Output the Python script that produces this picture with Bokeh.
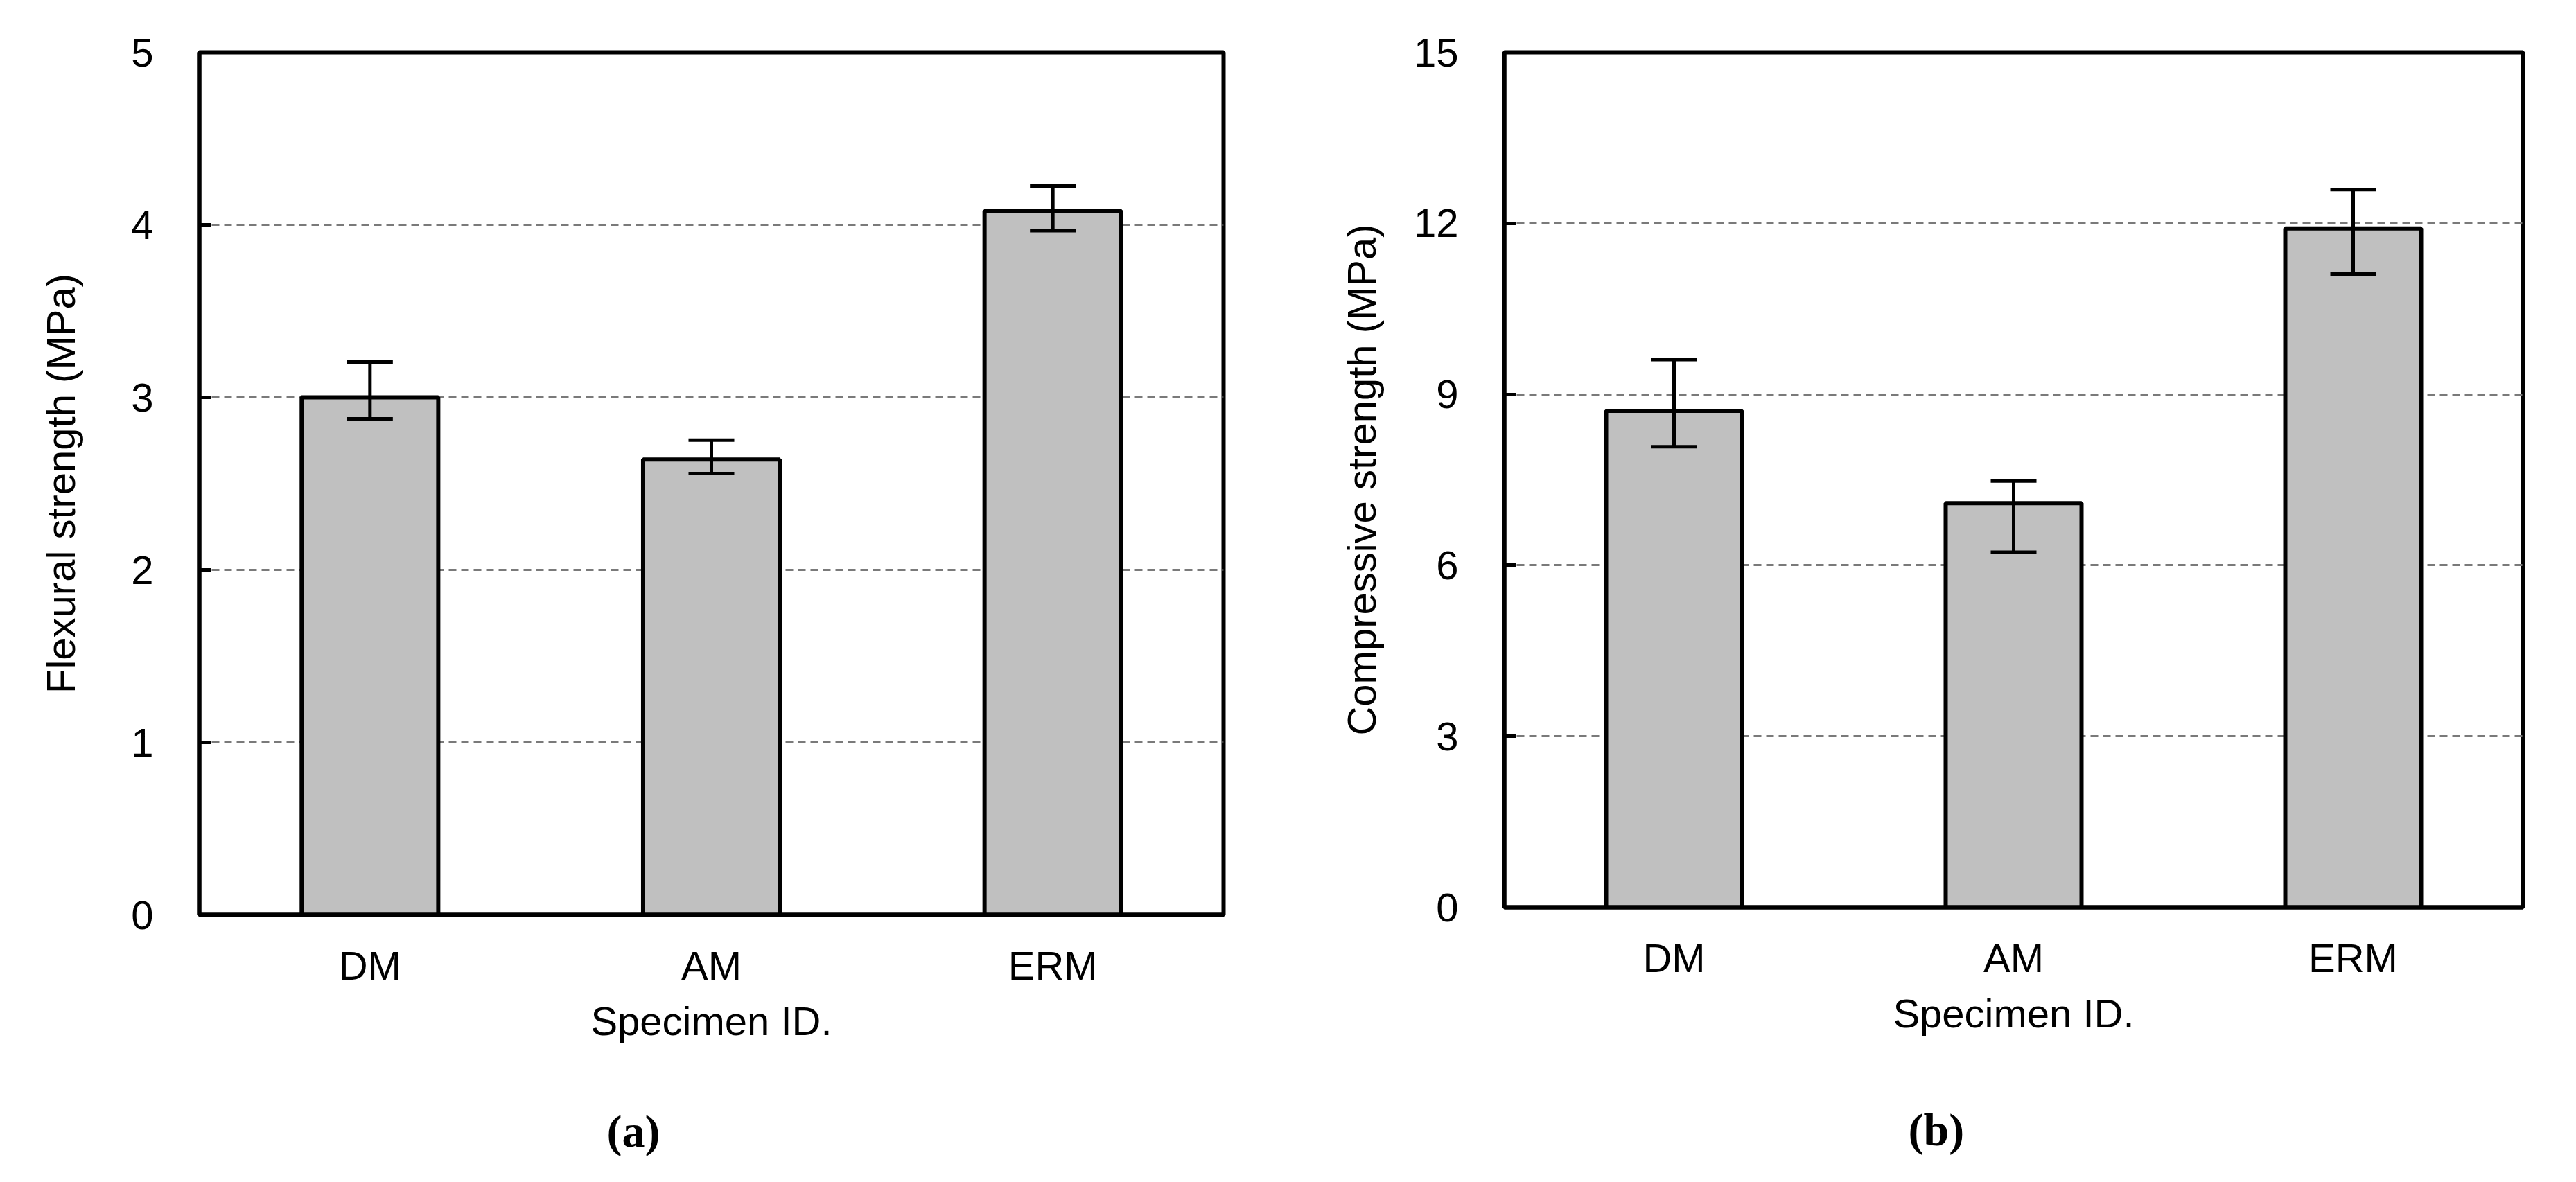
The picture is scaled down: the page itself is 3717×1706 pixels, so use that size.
from bokeh.plotting import figure
from bokeh.models import (ColumnDataSource, FactorRange, Range1d, FixedTicker,
                          Whisker, TeeHead, Title)
from bokeh.layouts import row
from bokeh.embed import file_html
from bokeh.resources import INLINE

# ---------------- data ----------------
specimens = ["DM", "AM", "ERM"]

flexural_mean = [3.00, 2.64, 4.08]
flexural_upper = [3.205, 2.752, 4.225]
flexural_lower = [2.876, 2.558, 3.966]
flexural_ticks = [0, 1, 2, 3, 4, 5]

compressive_mean = [8.71, 7.09, 11.91]
compressive_upper = [9.61, 7.48, 12.59]
compressive_lower = [8.08, 6.23, 11.11]
compressive_ticks = [0, 3, 6, 9, 12, 15]

FONT = "Liberation Sans"
FS = "58px"


def make_panel(mean, upper, lower, ticks, ylabel, caption, frame_w, frame_h,
               border_left, border_right, border_top, border_bottom,
               label_standoff, caption_offset, caption_standoff):
    src = ColumnDataSource(dict(cat=specimens, mean=mean, upper=upper, lower=lower))
    p = figure(x_range=FactorRange(*specimens, range_padding=0),
               y_range=Range1d(ticks[0], ticks[-1]),
               frame_width=frame_w, frame_height=frame_h,
               min_border_left=border_left, min_border_right=border_right,
               min_border_top=border_top, min_border_bottom=border_bottom,
               output_backend="svg", toolbar_location=None,
               background_fill_color="white", border_fill_color="white")
    p.vbar(x="cat", top="mean", bottom=0, width=0.40, source=src,
           fill_color="#c0c0c0", line_color="black", line_width=6)
    w = Whisker(base="cat", upper="upper", lower="lower", source=src,
                line_color="black", line_width=5, level="annotation",
                upper_head=TeeHead(size=66, line_color="black", line_width=5),
                lower_head=TeeHead(size=66, line_color="black", line_width=5))
    p.add_layout(w)

    p.outline_line_color = "black"
    p.outline_line_width = 6
    p.outline_line_alpha = 1.0

    p.xgrid.grid_line_color = None
    p.ygrid.grid_line_color = "#7a7a7a"
    p.ygrid.grid_line_width = 3
    p.ygrid.grid_line_dash = "11 7"
    p.yaxis.ticker = FixedTicker(ticks=ticks)

    for ax in (p.xaxis[0], p.yaxis[0]):
        ax.axis_line_color = "black"
        ax.axis_line_width = 6
        ax.major_label_text_font = FONT
        ax.major_label_text_font_size = FS
        ax.major_label_text_color = "black"
        ax.axis_label_text_font = FONT
        ax.axis_label_text_font_size = FS
        ax.axis_label_text_font_style = "normal"
        ax.axis_label_text_color = "black"
        ax.minor_tick_line_color = None

    p.xaxis.axis_label = "Specimen ID."
    p.xaxis.major_tick_line_color = None
    p.xaxis.major_label_standoff = 34
    p.xaxis.axis_label_standoff = 12

    p.yaxis.axis_label = ylabel
    p.yaxis.major_tick_in = 17
    p.yaxis.major_tick_out = 0
    p.yaxis.major_tick_line_width = 5
    p.yaxis.major_tick_line_color = "black"
    p.yaxis.major_label_standoff = 66
    p.yaxis.axis_label_standoff = label_standoff

    t = Title(text=caption, align="left", offset=caption_offset,
              text_font="Liberation Serif", text_font_style="bold",
              text_font_size="66px", text_color="black", standoff=caption_standoff)
    p.add_layout(t, "below")
    return p


p1 = make_panel(flexural_mean, flexural_upper, flexural_lower, flexural_ticks,
                "Flexural strength (MPa)", "(a)", 1478, 1245,
                287, 87, 72, 300, 66, 588, 170)
p2 = make_panel(compressive_mean, compressive_upper, compressive_lower, compressive_ticks,
                "Compressive strength (MPa)", "(b)", 1470, 1234,
                318, 50, 75, 300, 40, 583, 188)

layout = row(p1, p2)
open("out.html", "w").write(file_html(layout, INLINE))
